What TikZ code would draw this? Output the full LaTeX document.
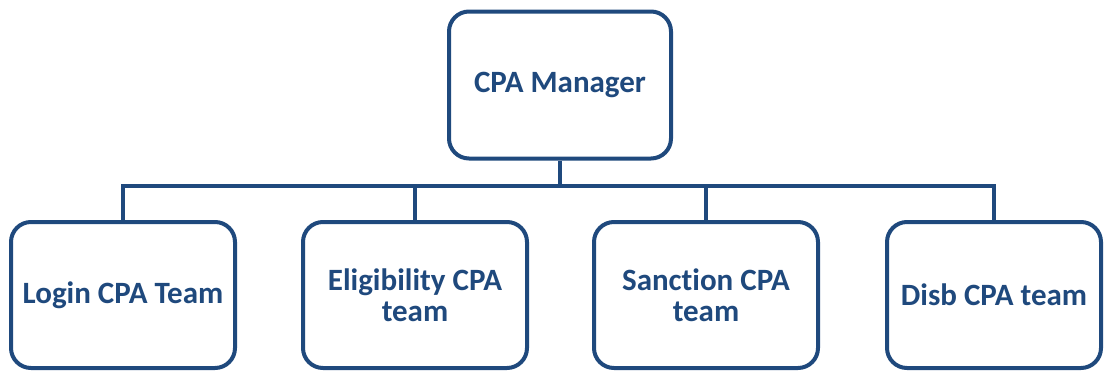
\documentclass[tikz,border=0pt]{standalone}
\usepackage{fontspec}
\setmainfont{Carlito}[Ligatures=NoCommon]
\usetikzlibrary{positioning}
\definecolor{orgblue}{RGB}{31,73,125}
\tikzstyle{boss} = [rectangle, draw=orgblue, line width=4pt, rounded corners=20pt,
    minimum width=222pt, minimum height=147pt, text=orgblue, align=center,
    font=\fontsize{31}{31}\selectfont\bfseries]
\tikzstyle{team} = [boss, minimum width=224pt, minimum height=146pt]
\tikzstyle{line} = [draw=orgblue, line width=4pt]

\begin{document}
\begin{tikzpicture}[x=1pt, y=-1pt]
        \useasboundingbox (0,0) rectangle (1105,372);
        % Place nodes
        \node [boss] (mgr) at (560,85) {CPA Manager};
        \coordinate (bus) at (560,186); % junction of the branches

        \node [team] (login) at (123,295) {Login CPA Team};
        \node [team] (elig) at (415,295) {Eligibility CPA\\team};
        \node [team] (sanc) at (706,295) {Sanction CPA\\team};
        \node [team, minimum width=214pt] (disb) at (994,295) {Disb CPA team};

        % Draw edges
        \path [line] (mgr) -- (bus);
        \path [line] (bus) -| (login);
        \path [line] (bus) -| (elig);
        \path [line] (bus) -| (sanc);
        \path [line] (bus) -| (disb);
\end{tikzpicture}
\end{document}
